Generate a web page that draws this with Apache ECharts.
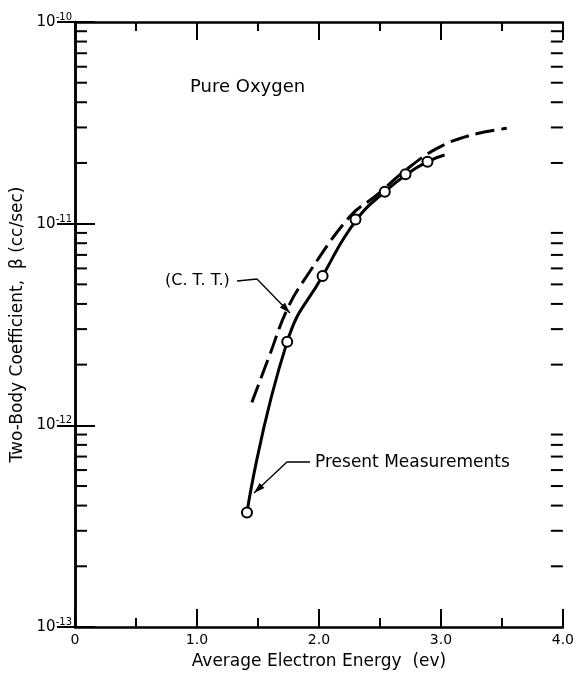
<!DOCTYPE html>
<html>
<head>
<meta charset="utf-8">
<script src="https://cdn.jsdelivr.net/npm/echarts@6/dist/echarts.min.js"></script>
<style>
html, body { margin: 0; padding: 0; background: #fff; }
#chart { width: 577px; height: 675px; }
</style>
</head>
<body>
<div id="chart"></div>
<script>
// present measurements (open circles)
var measEnergy = [1.41, 1.74, 2.03, 2.30, 2.54, 2.71, 2.89]
var measBeta = [3.7e-13, 2.6e-12, 5.5e-12, 1.05e-11, 1.44e-11, 1.76e-11, 2.03e-11]

// solid curve drawn through the measurements
var fitEnergy = [1.41, 1.74, 2.03, 2.31, 2.54, 2.72, 2.89, 3.03]
var fitBeta = [3.7e-13, 2.6e-12, 5.5e-12, 1.05e-11, 1.44e-11, 1.76e-11, 2.03e-11, 2.19e-11]

// (C.T.T.) dashed curve
var cttEnergy = [1.45, 1.59, 1.74, 1.89, 2.25, 2.47, 2.71, 2.96, 3.23, 3.54]
var cttBeta = [1.3e-12, 2.18e-12, 3.77e-12, 5.38e-12, 1.08e-11, 1.38e-11, 1.84e-11, 2.35e-11, 2.73e-11, 2.97e-11]

// log axis decades and the minor tick mantissas inside each
var decades = [1e-13, 1e-12, 1e-11]
var minorMantissa = [2, 3, 4, 5, 6, 7, 8, 9]

var FONT = 'DejaVu Sans'

function pairs(xs, ys) {
    return xs.map(function (x, i) { return [x, ys[i]] })
}

var minorTickValues = []
decades.forEach(function (d) {
    minorMantissa.forEach(function (m) { minorTickValues.push([0, m * d]) })
})

// leader line with a filled arrow head at the last point
function leader(points) {
    var a = points[points.length - 2], b = points[points.length - 1]
    var dx = b[0] - a[0], dy = b[1] - a[1]
    var len = Math.sqrt(dx * dx + dy * dy)
    var ux = dx / len, uy = dy / len
    var hl = 11, hw = 3.5
    var bx = b[0] - ux * hl, by = b[1] - uy * hl
    return [{
        type: 'polyline',
        shape: { points: points },
        style: { stroke: '#000', lineWidth: 1.3, fill: null }
    }, {
        type: 'polygon',
        shape: { points: [b, [bx - uy * hw, by + ux * hw], [bx + uy * hw, by - ux * hw]] },
        style: { fill: '#000' }
    }]
}

var chart = echarts.init(document.getElementById('chart'))

var axisLine = { show: true, lineStyle: { color: '#000', width: 2.5 } }

var option = {
    animation: false,
    backgroundColor: '#fff',
    grid: { left: 75, right: 12, top: 22, bottom: 43, containLabel: false },
    xAxis: [{
        type: 'value',
        min: 0, max: 4, interval: 1,
        position: 'bottom',
        axisLine: axisLine,
        axisTick: { inside: true, length: 18, lineStyle: { color: '#000', width: 2 } },
        minorTick: { show: true, splitNumber: 2, length: 9, lineStyle: { color: '#000', width: 2 } },
        splitLine: { show: false },
        axisLabel: {
            margin: 6, color: '#000', fontFamily: FONT, fontSize: 14,
            formatter: function (v) { return v === 0 ? '0' : v.toFixed(1) }
        },
        name: 'Average Electron Energy  (ev)',
        nameLocation: 'middle',
        nameGap: 26,
        nameTextStyle: { color: '#000', fontFamily: FONT, fontSize: 17 }
    }, {
        type: 'value',
        min: 0, max: 4, interval: 1,
        position: 'top',
        axisLine: axisLine,
        axisTick: { inside: true, length: 18, lineStyle: { color: '#000', width: 2 } },
        minorTick: { show: true, splitNumber: 2, length: 9, lineStyle: { color: '#000', width: 2 } },
        splitLine: { show: false },
        axisLabel: { show: false }
    }],
    yAxis: [{
        type: 'log',
        logBase: 10,
        min: 1e-13, max: 1e-10,
        position: 'left',
        axisLine: axisLine,
        axisTick: { inside: true, length: 20, lineStyle: { color: '#000', width: 2 } },
        splitLine: { show: false },
        axisLabel: {
            margin: 3, color: '#000', fontFamily: FONT,
            formatter: function (v) {
                return '{b|10}{s|' + Math.round(Math.log10(v)) + '}'
            },
            rich: {
                b: { fontFamily: FONT, fontSize: 15, color: '#000' },
                s: { fontFamily: FONT, fontSize: 10, color: '#000', padding: [0, 0, 9, 0] }
            }
        },
        name: 'Two-Body Coefficient,  \u03b2 (cc/sec)',
        nameLocation: 'middle',
        nameRotate: 90,
        nameGap: 30,
        nameTextStyle: { color: '#000', fontFamily: FONT, fontSize: 17 }
    }, {
        type: 'log',
        logBase: 10,
        min: 1e-13, max: 1e-10,
        position: 'right',
        axisLine: axisLine,
        axisTick: { inside: true, length: 18, lineStyle: { color: '#000', width: 2 } },
        splitLine: { show: false },
        axisLabel: { show: false }
    }],
    series: [{
        // minor ticks of the log axis, both sides of the frame
        type: 'custom',
        silent: true,
        xAxisIndex: 0, yAxisIndex: 0,
        data: minorTickValues,
        renderItem: function (params, api) {
            var y = api.coord([0, api.value(1)])[1]
            var cs = params.coordSys
            var st = { stroke: '#000', lineWidth: 2 }
            return {
                type: 'group',
                children: [
                    { type: 'line', shape: { x1: cs.x, y1: y, x2: cs.x + 12, y2: y }, style: st },
                    { type: 'line', shape: { x1: cs.x + cs.width, y1: y, x2: cs.x + cs.width - 12, y2: y }, style: st }
                ]
            }
        }
    }, {
        name: 'C.T.T.',
        type: 'line',
        data: pairs(cttEnergy, cttBeta),
        smooth: 0.4,
        showSymbol: false,
        lineStyle: { color: '#000', width: 3, type: [19, 7], cap: 'butt' }
    }, {
        name: 'fit',
        type: 'line',
        data: pairs(fitEnergy, fitBeta),
        smooth: 0.5,
        showSymbol: false,
        lineStyle: { color: '#000', width: 3 }
    }, {
        name: 'Present Measurements',
        type: 'scatter',
        data: pairs(measEnergy, measBeta),
        symbol: 'circle',
        symbolSize: 10,
        z: 5,
        itemStyle: { color: '#fff', opacity: 1, borderColor: '#000', borderWidth: 2 }
    }],
    graphic: [{
        type: 'text', left: 190, top: 78,
        style: { text: 'Pure Oxygen', font: '18px "DejaVu Sans"', fill: '#000' }
    }, {
        type: 'text', left: 165, top: 273,
        style: { text: '(C. T. T.)', font: '16px "DejaVu Sans"', fill: '#000' }
    }, {
        type: 'text', left: 315, top: 454,
        style: { text: 'Present Measurements', font: '17px "DejaVu Sans"', fill: '#000' }
    }].concat(
        leader([[237, 281], [257, 279], [290, 313]]),
        leader([[310, 462], [287, 462], [254, 493]])
    )
}

chart.setOption(option)
</script>
</body>
</html>
